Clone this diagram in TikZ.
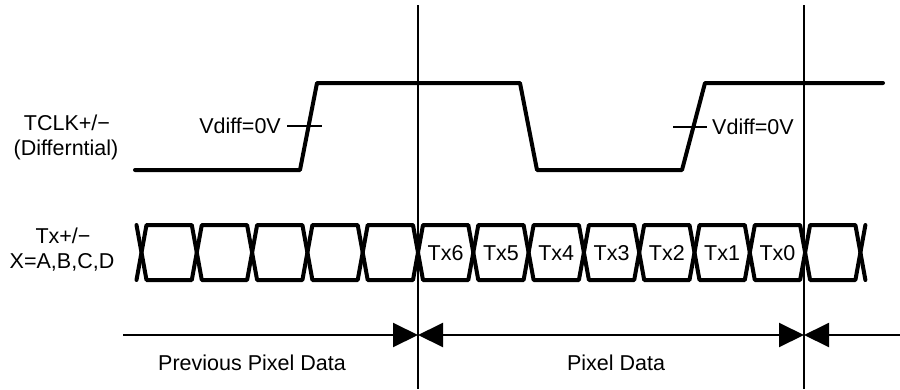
\documentclass[tikz,border=0pt]{standalone}
\usepackage{fontspec}
\setmainfont{Liberation Sans}
\usetikzlibrary{arrows.meta}
\begin{document}
\begin{tikzpicture}[x=1pt,y=-1pt,
  lbl/.style={inner sep=0pt,text height=15.5pt,text depth=0pt,font=\fontsize{21.5}{24}\selectfont},
  wave/.style={line width=4pt,line cap=round,line join=round},
  thin/.style={line width=2pt},
  dim/.style={line width=2pt,{Triangle[length=25pt,width=24pt]}-{Triangle[length=25pt,width=24pt]}},
  dimr/.style={line width=2pt,-{Triangle[length=25pt,width=24pt]}},
  diml/.style={line width=2pt,{Triangle[length=25pt,width=24pt]}-}]
\useasboundingbox (0,0) rectangle (900,389);
% vertical markers
\coordinate (m1t) at (418,5);  \coordinate (m1b) at (418,389);
\coordinate (m2t) at (804,5);  \coordinate (m2b) at (804,389);
\draw[thin] (m1t) -- (m1b);
\draw[thin] (m2t) -- (m2b);
% TCLK waveform
\draw[wave] (135,170) -- (300,170) -- (317,83) -- (520,83) -- (537,170) -- (682,170) -- (705,83) -- (883,83);
\coordinate (t1a) at (287,126); \coordinate (t1b) at (322,126);
\coordinate (t2a) at (673,127); \coordinate (t2b) at (707,127);
\draw[thin] (t1a) -- (t1b);
\draw[thin] (t2a) -- (t2b);
\node[lbl,anchor=east] (vd1) at (281,126) {Vdiff=0V};
\node[lbl,anchor=west] (vd2) at (712,127) {Vdiff=0V};
\node[lbl] (tclk) at (67,123) {TCLK+/−};
\node[lbl] (diff) at (66,148) {(Differntial)};
% data boxes
\def\per{55.3}
\foreach \k in {0,...,12}{
  \pgfmathsetmacro{\xa}{141.5+\per*\k}
  \pgfmathsetmacro{\xb}{141.5+\per*(\k+1)}
  \draw[wave] (\xa,252.5) -- (\xa+5,225) -- (\xb-5,225) -- (\xb,252.5) -- (\xb-5,280) -- (\xa+5,280) -- cycle;
}
\draw[wave] (136.5,225) -- (141.5,252.5) -- (136.5,280);
\pgfmathsetmacro{\xe}{141.5+\per*13}
\draw[wave] (\xe+5,225) -- (\xe,252.5) -- (\xe+5,280);
\foreach \n [count=\i from 5] in {6,5,4,3,2,1,0}{
  \pgfmathsetmacro{\xc}{141.5+\per*\i+\per/2}
  \node[lbl] (tx\n) at (\xc,252.5) {Tx\n};
}
\node[lbl] (txl) at (63,236) {Tx+/−};
\node[lbl] (xl) at (62,261) {X=A,B,C,D};
% dimension arrows
\coordinate (a0) at (123,335);
\coordinate (a1) at (418,335);
\coordinate (a2) at (804,335);
\coordinate (a3) at (900,335);
\draw[dimr] (a0) -- (a1);
\draw[dim] (a1) -- (a2);
\draw[diml] (a2) -- (a3);
\node[lbl] (prev) at (252,363) {Previous Pixel Data};
\node[lbl] (pix) at (616,363) {Pixel Data};
\end{tikzpicture}
\end{document}
